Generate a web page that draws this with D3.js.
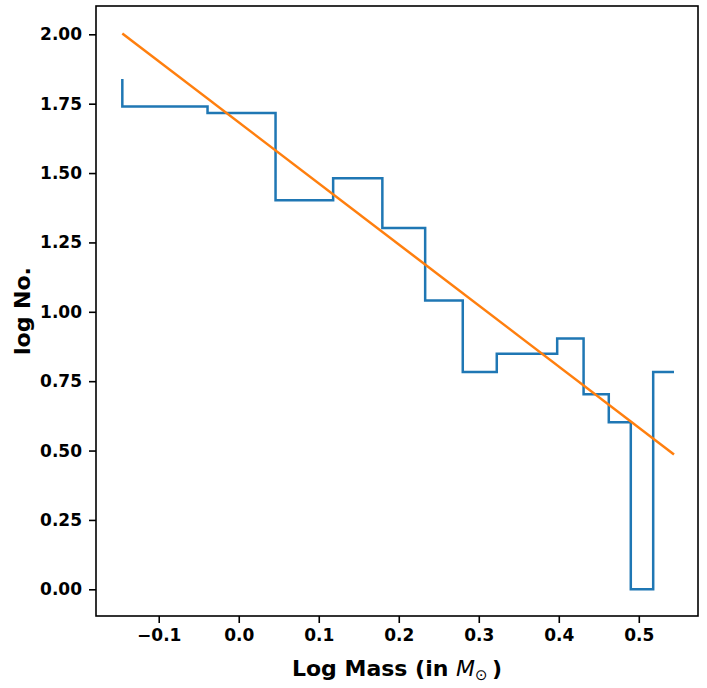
<!DOCTYPE html>
<html>
<head>
<meta charset="utf-8">
<script src="https://cdn.jsdelivr.net/npm/d3@7"></script>
<style>
  html, body { margin: 0; padding: 0; background: #fff; }
  svg { display: block; }
  text { font-family: "DejaVu Sans", sans-serif; font-weight: bold; fill: #000; }
</style>
</head>
<body>
<svg id="chart" width="707" height="688"></svg>
<script>
// ---- data ----
const logMass = [-0.1455, -0.039, 0.046, 0.118, 0.1795, 0.233, 0.280, 0.3225, 0.398, 0.431, 0.4625, 0.490, 0.518, 0.544];
const logNo   = [1.839, 1.740, 1.716, 1.402, 1.481, 1.302, 1.041, 0.783, 0.849, 0.904, 0.703, 0.602, 0.0, 0.783];
const fitX = [-0.1455, 0.544];
const fitY = [2.003, 0.486];
const xTicks = [-0.1, 0.0, 0.1, 0.2, 0.3, 0.4, 0.5];
const yTicks = [0.00, 0.25, 0.50, 0.75, 1.00, 1.25, 1.50, 1.75, 2.00];
const xLabel = "Log Mass (in ";
const yLabel = "log No.";

// ---- layout ----
const W = 707, H = 688;
const m = { left: 96, top: 6, right: 9, bottom: 72 };
const iw = W - m.left - m.right, ih = H - m.top - m.bottom;

const svg = d3.select("#chart");
const g = svg.append("g").attr("transform", `translate(${m.left},${m.top})`);

const x = d3.scaleLinear().domain([-0.1784, 0.574]).range([0, iw]);
const y = d3.scaleLinear().domain([-0.0962, 2.102]).range([ih, 0]);

// step line
const pts = logMass.map((v, i) => [v, logNo[i]]);
g.append("path")
  .datum(pts)
  .attr("fill", "none")
  .attr("stroke", "#1f77b4")
  .attr("stroke-width", 2.5)
  .attr("stroke-linejoin", "miter")
  .attr("d", d3.line().x(d => x(d[0])).y(d => y(d[1])).curve(d3.curveStepBefore));

// fit line
const fpts = fitX.map((v, i) => [v, fitY[i]]);
g.append("path")
  .datum(fpts)
  .attr("fill", "none")
  .attr("stroke", "#ff7f0e")
  .attr("stroke-width", 2.5)
  .attr("d", d3.line().x(d => x(d[0])).y(d => y(d[1])));

// axes
const fmtX = v => (v < 0 ? "\u2212" : "") + Math.abs(v).toFixed(1);
const xAxis = g.append("g").attr("transform", `translate(0,${ih})`)
  .call(d3.axisBottom(x).tickValues(xTicks).tickFormat(fmtX).tickSize(7).tickPadding(6));
const yAxis = g.append("g")
  .call(d3.axisLeft(y).tickValues(yTicks).tickFormat(d3.format(".2f")).tickSize(7).tickPadding(7));

[xAxis, yAxis].forEach(a => {
  a.select(".domain").remove();
  a.selectAll(".tick line").attr("stroke", "#000").attr("stroke-width", 1.6);
  a.selectAll(".tick text").attr("font-size", 17).attr("font-family", "DejaVu Sans").attr("font-weight", "bold").attr("fill", "#000");
});

// frame
g.append("rect").attr("x", 0).attr("y", 0).attr("width", iw).attr("height", ih)
  .attr("fill", "none").attr("stroke", "#000").attr("stroke-width", 1.6);

// x label
const xl = svg.append("text")
  .attr("x", m.left + iw / 2).attr("y", 676)
  .attr("text-anchor", "middle").attr("font-size", 22);
xl.append("tspan").text(xLabel);
xl.append("tspan").attr("font-style", "italic").attr("font-weight", "normal").text("M");
xl.append("tspan").attr("font-size", 15).attr("font-weight", "normal").attr("dy", 4).text("\u2299");
xl.append("tspan").attr("dy", -4).text("\u2009)");

// y label
svg.append("text")
  .attr("transform", `translate(30,${m.top + ih / 2}) rotate(-90)`)
  .attr("text-anchor", "middle").attr("font-size", 22)
  .text(yLabel);
</script>
</body>
</html>
